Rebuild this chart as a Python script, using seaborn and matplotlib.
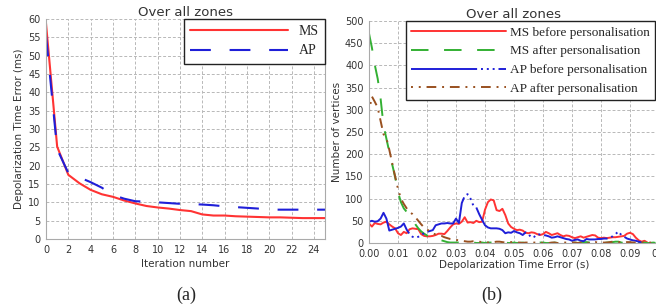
import numpy as np
import matplotlib
matplotlib.use("Agg")
import matplotlib.pyplot as plt
import seaborn as sns

# left panel: error per iteration
iterations = list(range(26))
ms_err = [58.8, 25.2, 17.5, 15.2, 13.4, 12.2, 11.5, 10.5, 9.7, 9.0, 8.6, 8.3, 7.9,
          7.6, 6.7, 6.4, 6.4, 6.2, 6.1, 6.0, 5.9, 5.9, 5.8, 5.7, 5.7, 5.7]
ap_err = [55.5, 24.5, 18.0, 16.8, 15.5, 14.0, 12.0, 11.0, 10.3, 10.2, 10.0, 9.8, 9.6,
          9.5, 9.4, 9.2, 8.9, 8.7, 8.5, 8.3, 8.0, 8.0, 8.0, 8.0, 8.0, 8.0]

# right panel: histogram of errors, bins of 1 ms
err_bins = np.round(np.arange(101) * 0.001, 3)
ms_before = [44, 37, 45, 43, 42, 46, 48, 42, 37, 33, 22, 18, 25, 22, 31, 33, 32, 31, 20, 16,
             15, 15, 16, 18, 21, 21, 20, 27, 35, 42, 44, 43, 48, 58, 46, 47, 45, 50, 47, 48,
             75, 92, 98, 96, 74, 72, 77, 63, 44, 36, 32, 29, 30, 28, 23, 22, 24, 23, 20, 18,
             20, 25, 22, 18, 20, 22, 18, 15, 17, 16, 13, 11, 13, 15, 12, 14, 16, 18, 17, 12,
             11, 12, 11, 12, 13, 13, 14, 15, 16, 21, 23, 20, 12, 6, 3, 5, 1]
ap_before = [48, 50, 48, 49, 55, 68, 55, 28, 30, 32, 34, 37, 44, 30, 20, 14, 12, 14, 18, 22,
             25, 27, 29, 40, 42, 44, 44, 45, 44, 44, 55, 45, 90, 106, 110, 100, 84, 80, 65, 52,
             40, 35, 33, 33, 33, 32, 29, 22, 24, 23, 27, 24, 22, 18, 24, 20, 12, 14, 20, 19,
             18, 17, 15, 12, 13, 15, 13, 11, 9, 8, 5, 7, 8, 5, 4, 9, 8, 8, 8, 9,
             9, 10, 10, 12, 15, 20, 26, 18, 14, 10, 8, 6, 5, 3, 1]
ms_after = [472, 440, 401, 370, 325, 265, 235, 205, 177, 149, 115, 92, 78, 70, 60, 53, 42, 33,
            26, 21, 17, 14, 12, 9, 12, 6, 4, 2, 1, 1,
            1, 1, 0, 1, 0, 0, 1, 0, 0, 1,
            0, 1, 1, 1, 2, 3, 2, 1, 0, 0,
            1, 0, 0, 1, 0, 0, 1, 0, 0, 1,
            1, 0, 0, 0, 1, 0, 0, 1, 0, 0,
            0, 1, 0, 1, 2, 2, 1, 0, 0, 1,
            0, 0, 1, 1, 2, 3, 3, 1, 0, 0,
            1, 1, 0, 0, 0, 1, 0, 0, 1, 0, 0]
ap_after = [296, 330, 318, 305, 275, 245, 236, 210, 180, 150, 122, 100, 88, 78, 70, 65, 58, 50,
            42, 35, 30, 27, 22, 19, 17, 16, 13, 11, 9, 8, 7, 6, 5, 4, 3, 3, 4, 4, 3, 2, 1,
            1, 2, 2, 3, 3, 2, 1, 1, 2, 2,
            1, 1, 0, 1, 1, 0, 1, 1, 1, 0,
            1, 0, 1, 1, 0, 0, 1, 1, 0, 1,
            1, 0, 1, 1, 1, 0, 1, 2, 1, 1,
            1, 1, 2, 3, 3, 2, 2, 1, 2, 2,
            1, 1, 0, 1, 1, 0, 1, 1, 0, 0]

sns.set_style("white")
plt.rcParams["font.family"] = ["DejaVu Sans"]

RED = "#ff3333"
BLUE = "#1f1fd8"
GREEN = "#33b033"
BROWN = "#99501f"
GRID = "#b8b8b8"
TXT = "#333333"

fig = plt.figure(figsize=(6.56, 3.08), dpi=100)
ax1 = fig.add_axes([46 / 656, 69 / 308, 279 / 656, 220 / 308])
ax2 = fig.add_axes([369 / 656, 65 / 308, 290 / 656, 222 / 308])


def style_axes(ax):
    ax.grid(True, color=GRID, linestyle=(0, (3, 2)), linewidth=0.7)
    ax.set_axisbelow(True)
    for side in ["left", "bottom", "right"]:
        ax.spines[side].set_color("#aaaaaa")
        ax.spines[side].set_linewidth(0.8)
    ax.spines["top"].set_visible(False)
    ax.tick_params(labelsize=7, colors=TXT, length=2, color="#aaaaaa", pad=2)


# ---- (a)
sns.lineplot(x=iterations, y=ms_err, ax=ax1, color=RED, linewidth=1.5, label="MS")
sns.lineplot(x=iterations, y=ap_err, ax=ax1, color=BLUE, linewidth=1.5,
             linestyle=(0, (10, 9)), label="AP")
ax1.set_xlim(0, 25)
ax1.set_ylim(0, 60)
ax1.set_xticks(range(0, 25, 2))
ax1.set_yticks(range(0, 61, 5))
style_axes(ax1)
ax1.set_xlabel("Iteration number", fontsize=7.5, color=TXT, labelpad=3)
ax1.set_ylabel("Depolarization Time Error (ms)", fontsize=7.5, color=TXT, labelpad=3)
ax1.set_title("Over all zones", fontsize=9.5, color=TXT, pad=2)
leg1 = ax1.legend(loc="upper right", bbox_to_anchor=(1.0, 1.0), borderaxespad=0,
                  fancybox=False, edgecolor="#222222", framealpha=1,
                  prop={"family": "Liberation Serif", "size": 10},
                  handlelength=7.0, handletextpad=0.8, labelspacing=0.45,
                  borderpad=0.45)
leg1.get_frame().set_linewidth(1.0)

# ---- (b)
n_ms = len(ms_before)
n_ap = len(ap_before)
sns.lineplot(x=err_bins[:n_ms], y=ms_before, ax=ax2, color=RED, linewidth=1.4,
             label="MS before personalisation")
sns.lineplot(x=err_bins, y=ms_after, ax=ax2, color=GREEN, linewidth=1.4,
             linestyle=(0, (9, 8)), label="MS after personalisation")
sns.lineplot(x=err_bins[:n_ap], y=ap_before, ax=ax2, color=BLUE, linewidth=1.4,
             linestyle=(0, (34, 2, 1, 2, 1, 2, 1, 2)), label="AP before personalisation")
sns.lineplot(x=err_bins, y=ap_after, ax=ax2, color=BROWN, linewidth=1.4,
             linestyle=(0, (1, 3, 1, 3, 5, 3, 1, 3, 5, 3)), label="AP after personalisation")
ax2.set_xlim(0, 0.1)
ax2.set_ylim(0, 500)
ax2.set_xticks(err_bins[::10])
ax2.set_xticklabels([f"{v:.2f}" for v in err_bins[:100:10]] + ["0.1"])
ax2.set_yticks(range(0, 501, 50))
style_axes(ax2)
ax2.set_xlabel("Depolarization Time Error (s)", fontsize=7.5, color=TXT, labelpad=1)
ax2.set_ylabel("Number of vertices", fontsize=7.5, color=TXT, labelpad=2)
ax2.set_title("Over all zones", fontsize=9.5, color=TXT, pad=2)
leg2 = ax2.legend(loc="upper right", bbox_to_anchor=(0.986, 1.0), borderaxespad=0,
                  fancybox=False, edgecolor="#222222", framealpha=1,
                  prop={"family": "Liberation Serif", "size": 9.5},
                  handlelength=7.2, handletextpad=0.3, labelspacing=0.5,
                  borderpad=0.4)
leg2.get_frame().set_linewidth(1.0)

fig.text(186 / 656, 1 - 295 / 308, "(a)", ha="center", va="center",
         fontsize=13, family="Liberation Serif")
fig.text(492 / 656, 1 - 295 / 308, "(b)", ha="center", va="center",
         fontsize=13, family="Liberation Serif")

fig.savefig("out.png", dpi=100)
